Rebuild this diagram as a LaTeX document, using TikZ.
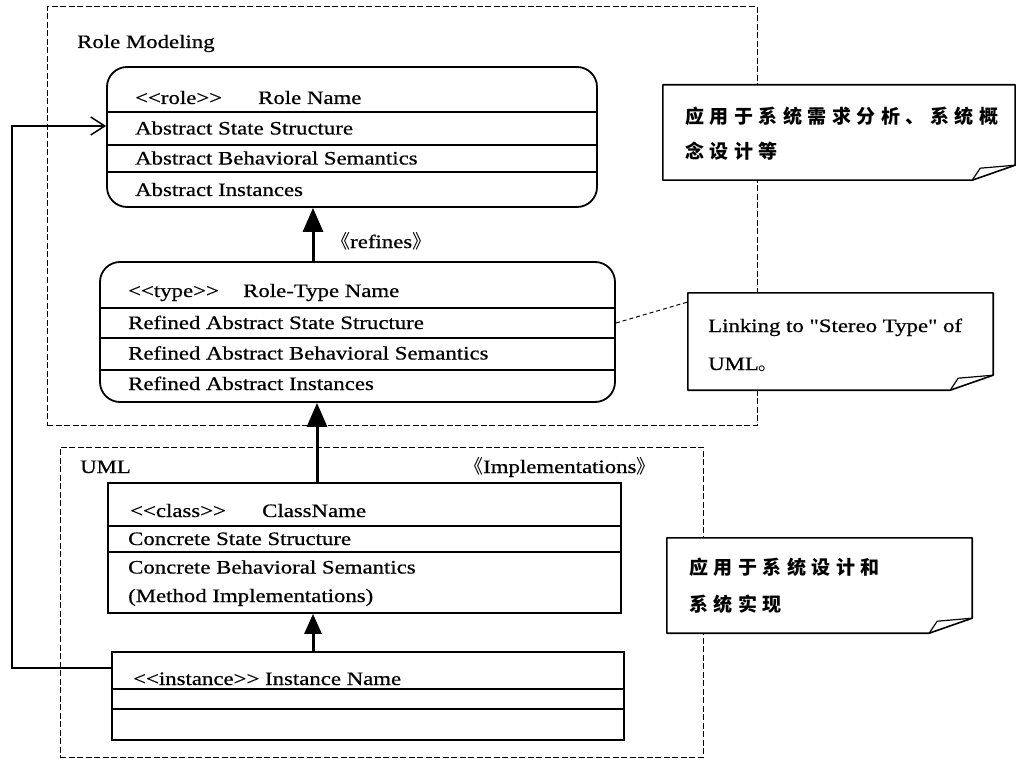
\documentclass[tikz,border=0pt]{standalone}
\usepackage{fontspec}
\setmainfont[FakeStretch=1.2,FakeBold=0.6,Ligatures=TeXOff]{Liberation Serif}
\newfontfamily\cjk{Noto Sans CJK SC}
\newfontfamily\cjkn[LetterSpace=29]{Noto Sans CJK SC}
\usetikzlibrary{arrows.meta,calc}
\tikzset{
  frame/.style={draw, line width=1pt, dash pattern=on 6pt off 2.5pt},
  umlbox/.style={draw, line width=1.8pt, rectangle, inner sep=0pt, fill=white},
  rbox/.style={umlbox, rounded corners=20pt},
  divline/.style={line width=1.4pt},
  lbl/.style={anchor=base west, inner sep=0pt},
  cjklbl/.style={anchor=base west, inner sep=0pt, font=\fontsize{19}{22}\cjkn\bfseries},
  genarrow/.style={line width=3pt, -{Triangle[width=20pt,length=24pt]}},
  genarrowsmall/.style={line width=3pt, -{Triangle[width=17pt,length=20pt]}},
  openarrow/.style={line width=1.5pt, -{Straight Barb[length=14pt,width=18pt,line width=1.5pt]}},
  notebox/.style={inner sep=0pt, rectangle},
  noteline/.style={line width=1.6pt, fill=white, line join=round},
  notelink/.style={line width=1pt, dash pattern=on 4pt off 3pt}
}
\newcommand\foldnote[1]{%
  \draw[noteline] (#1.north west) -- (#1.north east) -- ($(#1.south east)+(0,-15)$)
    -- ($(#1.south east)+(-43,0)$) -- (#1.south west) -- cycle;
  \draw[line width=1.2pt] ($(#1.south east)+(-43,0)$) -- ($(#1.south east)+(-35,-12)$) -- ($(#1.south east)+(0,-15)$);
}
\begin{document}
\begin{tikzpicture}[x=1pt,y=-1pt,font=\fontsize{19}{22}\selectfont]
\useasboundingbox (0,0) rectangle (1016,759);
\fill[white] (0,0) rectangle (1016,759);

% frames
\node[frame, inner sep=0pt, minimum width=710pt, minimum height=418pt] (rolemod) at (402,216) {};
\node[frame, inner sep=0pt, minimum width=643pt, minimum height=310pt] (umlframe) at (381.5,602) {};
\node[lbl] (rolemodlbl) at (77,48) {Role Modeling};
\node[lbl] (umllbl) at (80,473) {UML};

% role box
\node[rbox, minimum width=490pt, minimum height=140pt] (role) at (352,137) {};
\draw[divline] (role.west |- 0,112) -- (role.east |- 0,112);
\draw[divline] (role.west |- 0,145) -- (role.east |- 0,145);
\draw[divline] (role.west |- 0,172) -- (role.east |- 0,172);
\node[lbl] (rolest) at (135,104) {<<role>>};
\node[lbl] (rolename) at (258,104) {Role Name};
\node[lbl] (rolea) at (135,134.5) {Abstract State Structure};
\node[lbl] (roleb) at (135,164.5) {Abstract Behavioral Semantics};
\node[lbl] (rolec) at (135,196) {Abstract Instances};

% type box
\node[rbox, minimum width=515pt, minimum height=140pt] (type) at (357.5,332) {};
\draw[divline] (type.west |- 0,308) -- (type.east |- 0,308);
\draw[divline] (type.west |- 0,338) -- (type.east |- 0,338);
\draw[divline] (type.west |- 0,370) -- (type.east |- 0,370);
\node[lbl] (typest) at (128,297) {<<type>>};
\node[lbl] (typename) at (243,297) {Role-Type Name};
\node[lbl] (typea) at (128,329) {Refined Abstract State Structure};
\node[lbl] (typeb) at (128,359.5) {Refined Abstract Behavioral Semantics};
\node[lbl] (typec) at (128,390) {Refined Abstract Instances};

% class box
\node[umlbox, minimum width=513pt, minimum height=130pt] (class) at (364.5,548) {};
\draw[divline] (class.west |- 0,526) -- (class.east |- 0,526);
\draw[divline] (class.west |- 0,552) -- (class.east |- 0,552);
\node[lbl] (classst) at (130,517) {<<class>>};
\node[lbl] (classname) at (262,517) {ClassName};
\node[lbl] (classa) at (128,545) {Concrete State Structure};
\node[lbl] (classb) at (128,573.5) {Concrete Behavioral Semantics};
\node[lbl] (classc) at (128,602) {(Method Implementations)};

% instance box
\node[umlbox, minimum width=512pt, minimum height=88pt] (inst) at (368,696) {};
\draw[divline] (inst.west |- 0,689) -- (inst.east |- 0,689);
\draw[divline] (inst.west |- 0,709) -- (inst.east |- 0,709);
\node[lbl] (instst) at (133,685) {<<instance>> Instance Name};

% generalisation arrows
\path (313,0) coordinate (xa) (317,0) coordinate (xb) (313,0) coordinate (xc) (12,0) coordinate (xl);
\draw[genarrow] (type.north -| xa) -- (role.south -| xa);
\draw[genarrow] (class.north -| xb) -- (type.south -| xb);
\draw[genarrowsmall] (inst.north -| xc) -- (class.south -| xc);
\node[lbl] (refines) at (331,248) {{\cjk 《}refines{\cjk 》}};
\node[lbl] (impl) at (464,473) {{\cjk 《}Implementations{\cjk 》}};

% feedback connector
\coordinate (fb1) at (xl |- 0,668);
\coordinate (fb2) at (xl |- 0,126);
\draw[openarrow] (inst.west |- fb1) -- (fb1) -- (fb2) -- (role.west |- fb2);

% notes
\node[notebox, minimum width=352pt, minimum height=95pt] (n1) at (839,132.5) {};
\node[notebox, minimum width=305pt, minimum height=97pt] (n2) at (840.5,341.5) {};
\node[notebox, minimum width=305pt, minimum height=95pt] (n3) at (819.5,585.5) {};
\draw[notelink] (type.east |- 0,323) -- (n2.west |- 0,302);
\foldnote{n1}
\foldnote{n2}
\foldnote{n3}
\node[cjklbl] (n1a) at (685,124) {应用于系统需求分析、系统概};
\node[cjklbl] (n1b) at (685,159) {念设计等};
\node[lbl] (n2a) at (708,332) {Linking to "Stereo Type" of};
\node[lbl] (n2b) at (708,370) {UML{\cjk 。}};
\node[cjklbl] (n3a) at (689,574) {应用于系统设计和};
\node[cjklbl] (n3b) at (689,611) {系统实现};
\end{tikzpicture}
\end{document}
